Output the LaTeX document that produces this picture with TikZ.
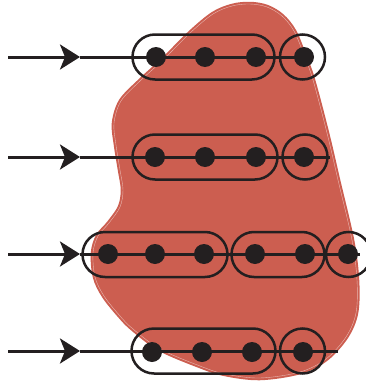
\documentclass[tikz,border=0pt]{standalone}
\usetikzlibrary{arrows.meta}
\definecolor{blobred}{RGB}{204,94,80}
\definecolor{ink}{RGB}{35,31,32}
\tikzset{
  dotnode/.style={circle,fill=ink,inner sep=0pt,minimum size=20pt},
  wire/.style={ink,line width=3pt},
  ring/.style={ink,line width=2.5pt},
  arr/.style={wire,-{Stealth[length=20pt,width=25pt,inset=5pt]}}
}
\begin{document}
\begin{tikzpicture}[x=1pt,y=-1pt]
\useasboundingbox (0,0) rectangle (366,383);
% blob
\def\blobpath{plot[smooth cycle,tension=0.55] coordinates {(232,6) (250,4) (267,7) (282,16) (294,31) (304,55) (313,80) (327,133) (338,180) (352,240) (357,280) (356,313) (346,337) (326,359) (300,372) (260,378) (225,374) (200,366) (160,349) (133,329) (120,316) (104,296) (95,277) (93,253) (98,236) (109,223) (120,207) (123,190) (120,170) (116,145) (114,123) (121,101) (140,81) (163,60) (190,33) (213,14)}}
\fill[blobred] \blobpath;
\draw[blobred,line width=4.5pt] \blobpath;
\draw[white,opacity=0.55,line width=0.4pt] \blobpath;
% coordinates
\foreach \r/\y/\e in {1/57/306,2/157/330,3/254/360,4/351/338}{
  \coordinate (s\r) at (8,\y);
  \coordinate (a\r) at (80,\y);
  \coordinate (e\r) at (\e,\y);
}
% wires
\foreach \r in {1,2,3,4}{
  \draw[arr] (s\r) -- (a\r);
  \draw[wire] (a\r) -- (e\r);
}
% pills and rings
\draw[ring,rounded corners=22.5pt] (132.5,34.5) rectangle (274.5,79.5);
\draw[ring] (302.5,57) circle (22.5);
\draw[ring,rounded corners=22.5pt] (132.5,134.5) rectangle (277.5,179.5);
\draw[ring] (305,157) circle (22.5);
\draw[ring,rounded corners=22.5pt] (82.5,232) rectangle (227.5,277);
\draw[ring,rounded corners=22.5pt] (231.5,232) rectangle (324.5,277);
\draw[ring] (348.5,254.5) circle (22.5);
\draw[ring,rounded corners=22.5pt] (131.5,328.5) rectangle (275.5,373.5);
\draw[ring] (302.5,351) circle (22.5);
% dots
\node[dotnode] (d11) at (156,57) {};
\node[dotnode] (d12) at (205,57) {};
\node[dotnode] (d13) at (256,57) {};
\node[dotnode] (d14) at (304,57) {};
\node[dotnode] (d21) at (155,157) {};
\node[dotnode] (d22) at (205,157) {};
\node[dotnode] (d23) at (256,157) {};
\node[dotnode] (d24) at (304,157) {};
\node[dotnode] (d31) at (108,254) {};
\node[dotnode] (d32) at (155,254) {};
\node[dotnode] (d33) at (204,254) {};
\node[dotnode] (d34) at (255,254) {};
\node[dotnode] (d35) at (305,254) {};
\node[dotnode] (d36) at (348,254) {};
\node[dotnode] (d41) at (152,352) {};
\node[dotnode] (d42) at (202,352) {};
\node[dotnode] (d43) at (252,352) {};
\node[dotnode] (d44) at (303,352) {};
\end{tikzpicture}
\end{document}
